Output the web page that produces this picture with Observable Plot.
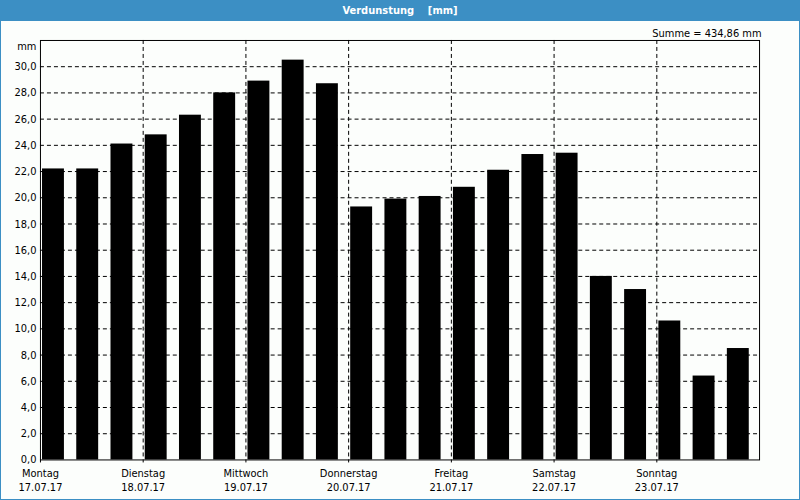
<!DOCTYPE html>
<html><head><meta charset="utf-8">
<script src="https://cdn.jsdelivr.net/npm/d3@7"></script>
<script src="https://cdn.jsdelivr.net/npm/@observablehq/plot@0.6"></script>
<style>
body{margin:0;background:#fff;}
#wrap{position:relative;width:800px;height:500px;background:#fcfefc;box-sizing:border-box;border:1px solid #3c8fc4;border-top:none;overflow:hidden;font-family:"DejaVu Sans Condensed","Liberation Sans",sans-serif;}
#title{position:absolute;left:-1px;top:0;width:800px;height:21px;background:#3c8fc4;color:#fff;font-weight:bold;font-size:11px;line-height:21px;text-align:center;white-space:pre;}
#chart{position:absolute;left:-1px;top:21px;}
</style>
</head><body>
<div id="wrap">
  <div id="title">Verdunstung    [mm]</div>
  <div id="chart"></div>
</div>
<script>
const days = ["Montag","Dienstag","Mittwoch","Donnerstag","Freitag","Samstag","Sonntag"];
const dates = ["17.07.17","18.07.17","19.07.17","20.07.17","21.07.17","22.07.17","23.07.17"];
const values = [22.2,22.2,24.1,24.8,26.3,28.0,28.9,30.5,28.7,19.3,19.9,20.1,20.8,22.1,23.3,23.4,14.0,13.0,10.6,6.4,8.5];
const yTicks = [0,2,4,6,8,10,12,14,16,18,20,22,24,26,28,30];
const summe = "Summe = 434,86 mm";
const unit = "mm";

const data = values.map((v, i) => ({i, v}));
const dayTicks = days.map((d, k) => k * 3);
const font = '"DejaVu Sans Condensed","Liberation Sans",sans-serif';

const chart = Plot.plot({
  width: 800, height: 479,
  marginTop: 19, marginBottom: 40, marginLeft: 40, marginRight: 40,
  style: {background: "transparent", fontFamily: font, fontSize: "11px", color: "#000"},
  x: {domain: [0, 21], axis: null},
  y: {domain: [0, 32], axis: null},
  marks: [
    Plot.ruleY(yTicks.filter(t => t > 0), {stroke: "#000", strokeDasharray: "4,3", strokeWidth: 1, strokeOpacity: 1}),
    Plot.ruleX(dayTicks.filter(t => t > 0), {stroke: "#000", strokeDasharray: "4,3", strokeWidth: 1, strokeOpacity: 1}),
    Plot.rectY(data, {x1: d => d.i + 0.06, x2: d => d.i + 0.70, y1: 0, y2: "v", fill: "#000"}),
    Plot.frame({stroke: "#000", strokeWidth: 1}),
    Plot.axisY({ticks: yTicks, tickSize: 0, tickPadding: 4, label: null, tickFormat: v => v.toFixed(1).replace(".", ","), fontSize: 11, fill: "#000"}),
    Plot.axisX({ticks: dayTicks, tickSize: 3, tickPadding: 4, label: null, tickFormat: j => days[j / 3] + "\n" + dates[j / 3], fontSize: 11, lineHeight: 1.27, fill: "#000", stroke: "#000"}),
    Plot.text([unit], {frameAnchor: "top-left", dx: -4, dy: 6, lineAnchor: "middle", textAnchor: "end", fontSize: 11, fill: "#000"}),
    Plot.text([summe], {frameAnchor: "top-right", dx: 2, dy: -7, lineAnchor: "middle", textAnchor: "end", fontSize: 11, fill: "#000"})
  ]
});
document.getElementById("chart").appendChild(chart);
</script>
</body></html>
